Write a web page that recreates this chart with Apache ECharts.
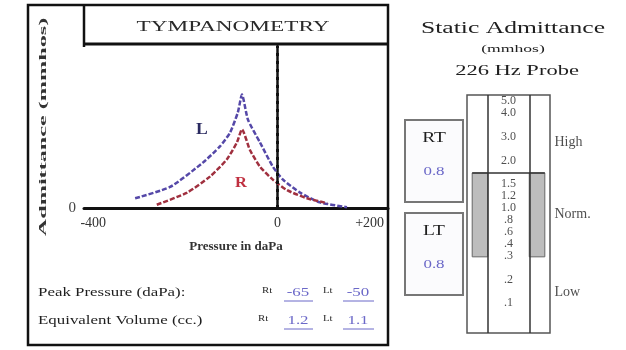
<!DOCTYPE html>
<html>
<head>
<meta charset="utf-8">
<script src="https://cdn.jsdelivr.net/npm/echarts@6/dist/echarts.min.js"></script>
<style>
  html, body { margin: 0; padding: 0; background: #fff; }
  #chart { width: 626px; height: 350px; }
</style>
</head>
<body>
<div id="chart"></div>
<script>
// tympanogram curves (pressure in daPa, admittance in mmhos)
const lPressure = [-309, -233, -162, -125, -103, -86, -77, -64, -38, -10, 12, 49, 92, 151];
const lAdmittance = [0.12, 0.26, 0.56, 0.76, 0.93, 1.18, 1.40, 1.09, 0.81, 0.51, 0.35, 0.19, 0.07, 0.01];
const rPressure = [-262, -196, -146, -110, -88, -77, -60, -38, -10, 21, 64, 108];
const rAdmittance = [0.04, 0.19, 0.39, 0.60, 0.81, 0.97, 0.72, 0.51, 0.35, 0.22, 0.12, 0.06];

const xTickValues = [-400, 0, 200];
const xTickLabels = ['-400', '0', '+200'];

// static admittance scale, bottom to top, one entry per slot
const scaleLabels = ['', '', '.1', '', '.2', '', '.3', '.4', '.6', '.8', '1.0', '1.2', '1.5', '', '2.0', '', '3.0', '', '4.0', '5.0'];
const normBand = [6.4, 13.45];
const zoneNames = ['High', 'Norm.', 'Low'];
const zoneSlots = [16, 10, 3.4];

const earNames = ['RT', 'LT'];
const earStatic = ['0.8', '0.8'];

const tableRows = ['Peak Pressure (daPa):', 'Equivalent Volume (cc.)'];
const peakPressure = ['-65', '-50'];   // Rt, Lt
const equivVolume = ['1.2', '1.1'];    // Rt, Lt

const serif = "'Liberation Serif', 'DejaVu Serif', serif";
const ink = '#1e1e1e';
const blue = '#6b68c8';

const chart = echarts.init(document.getElementById('chart'));

function txt(text, x, y, o) {
  o = o || {};
  return {
    type: 'text', x: x, y: y, scaleX: o.sx || 1.35, rotation: o.rot || 0, z: 10,
    style: {
      text: text, fill: o.fill || ink,
      font: (o.weight || 'normal') + ' ' + (o.size || 13) + 'px ' + serif,
      align: o.align || 'left', verticalAlign: 'middle'
    }
  };
}

const graphics = [
  { type: 'rect', shape: { x: 28, y: 5, width: 360, height: 340 }, style: { fill: 'none', stroke: '#111', lineWidth: 2.5 } },
  { type: 'line', shape: { x1: 84, y1: 5, x2: 84, y2: 47 }, style: { stroke: '#111', lineWidth: 2.5 } },
  { type: 'line', shape: { x1: 84, y1: 44, x2: 388, y2: 44 }, style: { stroke: '#111', lineWidth: 3 } },
  txt('TYMPANOMETRY', 233, 27, { size: 15, align: 'center', sx: 1.55, fill: '#2a2a2a' }),
  txt('Admittance (mmhos)', 43, 127, { size: 11, weight: 'bold', align: 'center', sx: 2.2, rot: Math.PI / 2, fill: '#333' }),
  txt('L', 196, 130, { size: 16, weight: 'bold', fill: '#2a2a60', sx: 1.1 }),
  txt('R', 235, 183, { size: 15, weight: 'bold', fill: '#c03040', sx: 1.1 }),
  txt('Static Admittance', 513, 29, { size: 16, align: 'center', sx: 1.6 }),
  txt('(mmhos)', 513, 49, { size: 11, align: 'center', sx: 1.6 }),
  txt('226 Hz Probe', 517, 71, { size: 15, align: 'center', sx: 1.5 })
];

// table under the tympanogram
tableRows.forEach((row, i) => {
  const y = 293 + i * 28;
  const vals = i === 0 ? peakPressure : equivVolume;
  graphics.push(txt(row, 38, y, { size: 13, sx: 1.3 }));
  graphics.push(txt('Rt', 262 - i * 4, y - 2, { size: 9, sx: 1.2 }));
  graphics.push(txt(vals[0], 298, y, { size: 13, align: 'center', fill: blue, sx: 1.3 }));
  graphics.push(txt('Lt', 323, y - 2, { size: 9, sx: 1.2 }));
  graphics.push(txt(vals[1], 358, y, { size: 13, align: 'center', fill: blue, sx: 1.3 }));
  graphics.push({ type: 'line', shape: { x1: 284, y1: y + 8, x2: 313, y2: y + 8 }, style: { stroke: blue, lineWidth: 1 } });
  graphics.push({ type: 'line', shape: { x1: 343, y1: y + 8, x2: 374, y2: y + 8 }, style: { stroke: blue, lineWidth: 1 } });
});

// RT / LT boxes
earNames.forEach((name, i) => {
  const top = 120 + i * 93;
  graphics.push({ type: 'rect', shape: { x: 405, y: top, width: 58, height: 82 }, style: { fill: '#fbfbfd', stroke: '#777', lineWidth: 2 } });
  graphics.push(txt(name, 434, top + 18, { size: 15, align: 'center', sx: 1.3 }));
  graphics.push(txt(earStatic[i], 434, top + 52, { size: 13, align: 'center', fill: blue, sx: 1.3 }));
});

const option = {
  backgroundColor: '#fff',
  animation: false,
  graphic: graphics,
  grid: [
    { left: 84, right: 238, top: 46, bottom: 142 },
    { left: 467, right: 76, top: 95, bottom: 17, show: true, borderColor: '#555', borderWidth: 1.5 }
  ],
  xAxis: [
    {
      gridIndex: 0, type: 'value', min: -420, max: 240,
      name: 'Pressure in daPa', nameLocation: 'middle', nameGap: 32,
      nameTextStyle: { fontFamily: serif, fontSize: 13, fontWeight: 'bold', color: '#333' },
      axisLine: { lineStyle: { color: '#111', width: 3 } },
      axisTick: { show: false },
      splitLine: { show: false },
      axisLabel: {
        customValues: xTickValues,
        formatter: v => xTickLabels[xTickValues.indexOf(v)],
        fontFamily: serif, fontSize: 14, color: '#333', margin: 8
      }
    },
    { gridIndex: 1, type: 'value', min: 0, max: 4, show: false }
  ],
  yAxis: [
    {
      gridIndex: 0, type: 'value', min: 0, max: 2, interval: 2,
      axisLine: { show: true, lineStyle: { color: '#111', width: 2.5 } },
      axisTick: { show: false },
      splitLine: { show: false },
      axisLabel: { formatter: v => (v === 0 ? '0' : ''), fontFamily: serif, fontSize: 15, color: '#444', margin: 8 }
    },
    { gridIndex: 1, type: 'value', min: 0, max: 20, show: false }
  ],
  series: [
    {
      name: 'L', type: 'line', xAxisIndex: 0, yAxisIndex: 0,
      data: lPressure.map((p, i) => [p, lAdmittance[i]]),
      symbol: 'none', smooth: 0.2,
      lineStyle: { color: '#5548a8', width: 2.5, type: [5, 2] },
      markLine: {
        silent: true, symbol: 'none', label: { show: false },
        lineStyle: { color: '#111', width: 3, type: [3, 5] },
        data: [{ xAxis: 0 }]
      }
    },
    {
      name: 'R', type: 'line', xAxisIndex: 0, yAxisIndex: 0,
      data: rPressure.map((p, i) => [p, rAdmittance[i]]),
      symbol: 'none', smooth: 0.2,
      lineStyle: { color: '#a0303f', width: 2.5, type: [5, 2] }
    },
    {
      name: 'scale', type: 'scatter', xAxisIndex: 1, yAxisIndex: 1,
      symbolSize: 1, itemStyle: { color: 'rgba(0,0,0,0)' },
      data: scaleLabels.map((t, i) => [2, i + 0.5, t]).filter(d => d[2] !== ''),
      label: {
        show: true, position: 'inside', formatter: p => p.data[2],
        fontFamily: serif, fontSize: 12, color: '#222'
      },
      markArea: {
        silent: true,
        itemStyle: { color: '#bdbdbd', borderColor: '#666', borderWidth: 1 },
        data: [
          [{ coord: [0.25, normBand[0]] }, { coord: [1, normBand[1]] }],
          [{ coord: [3, normBand[0]] }, { coord: [3.75, normBand[1]] }]
        ]
      },
      markLine: {
        silent: true, symbol: 'none', label: { show: false },
        lineStyle: { color: '#333', width: 1.5, type: 'solid' },
        data: [
          { xAxis: 1 },
          { xAxis: 3 },
          [{ coord: [0.25, normBand[1]] }, { coord: [3.75, normBand[1]] }]
        ]
      }
    },
    {
      name: 'zones', type: 'scatter', xAxisIndex: 1, yAxisIndex: 1,
      symbolSize: 1, itemStyle: { color: 'rgba(0,0,0,0)' },
      data: zoneNames.map((n, i) => [4, zoneSlots[i], n]),
      label: {
        show: true, position: 'right', distance: 4, formatter: p => p.data[2],
        fontFamily: serif, fontSize: 14, color: '#222'
      }
    }
  ]
};

chart.setOption(option);
</script>
</body>
</html>
